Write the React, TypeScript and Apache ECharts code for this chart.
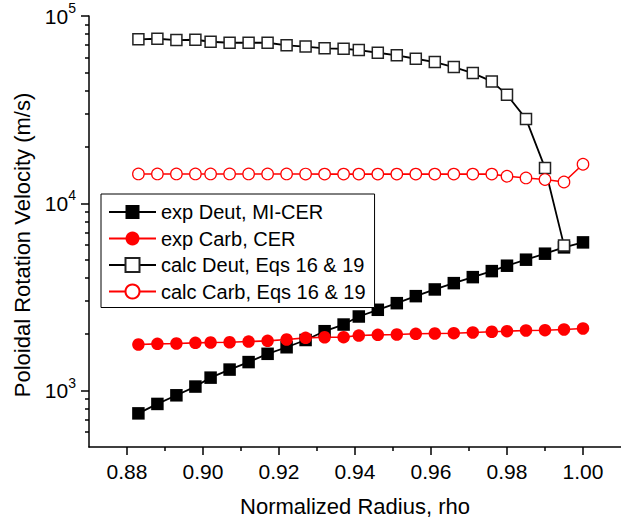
import React, { useEffect, useRef } from "react";
import * as echarts from "echarts";

const FONT = "'Liberation Sans', Arial, Helvetica, sans-serif";

const rho = [0.883, 0.888, 0.893, 0.898, 0.902, 0.907, 0.912, 0.917, 0.922, 0.927, 0.932, 0.937, 0.941, 0.946, 0.951, 0.956, 0.961, 0.966, 0.971, 0.976, 0.98, 0.985, 0.99, 0.995, 1.0];

const expDeut = [756, 849, 944, 1051, 1173, 1295, 1420, 1572, 1704, 1863, 2076, 2253, 2487, 2701, 2930, 3194, 3468, 3748, 4035, 4345, 4643, 5000, 5383, 5817, 6185];
const expCarb = [1762, 1777, 1784, 1799, 1806, 1812, 1828, 1844, 1874, 1913, 1927, 1930, 1968, 1985, 1993, 2010, 2018, 2026, 2043, 2061, 2076, 2094, 2102, 2120, 2146];
const calcDeut = [75060, 75610, 74420, 74690, 72870, 71970, 71970, 71970, 69710, 68690, 67190, 66850, 65800, 63640, 61640, 59120, 56760, 53390, 49590, 44750, 37950, 28230, 15450, 5960];
const calcCarb = [14350, 14350, 14350, 14350, 14350, 14350, 14350, 14350, 14350, 14330, 14320, 14320, 14320, 14320, 14320, 14320, 14320, 14320, 14320, 14320, 13950, 13660, 13390, 13000, 16170];

const xMajorTicks = [0.88, 0.9, 0.92, 0.94, 0.96, 0.98, 1.0];
const xMinorTicks = [0.89, 0.91, 0.93, 0.95, 0.97, 0.99];
const yMajorTicks = [1000, 10000, 100000];
const yMinorTicks = [600, 700, 800, 900, 2000, 3000, 4000, 5000, 6000, 7000, 8000, 9000, 20000, 30000, 40000, 50000, 60000, 70000, 80000, 90000];

const names = ["exp Deut, MI-CER", "exp Carb, CER", "calc Deut, Eqs 16 & 19", "calc Carb, Eqs 16 & 19"];

const pairs = (ys: number[]) => ys.map((y, i) => [rho[i], y]);

export default function App() {
  const ref = useRef<HTMLDivElement>(null);
  useEffect(() => {
    if (!ref.current) return;
    const chart = echarts.init(ref.current, null, { renderer: "svg" });
    const axisLineStyle = { color: "#000", width: 1.5 };
    chart.setOption({
      animation: false,
      backgroundColor: "#fff",
      textStyle: { fontFamily: FONT },
      grid: { left: 89, top: 16, width: 534, height: 431 },
      xAxis: [
        {
          type: "value",
          min: 0.87,
          max: 1.01,
          name: "Normalized Radius, rho",
          nameLocation: "middle",
          nameGap: 48,
          nameTextStyle: { fontSize: 22, color: "#000", fontFamily: FONT },
          splitLine: { show: false },
          axisLine: { show: true, onZero: false, lineStyle: axisLineStyle },
          axisTick: { show: true, inside: false, length: 8, lineStyle: { color: "#000", width: 1.5 }, customValues: xMajorTicks },
          axisLabel: {
            show: true,
            margin: 14,
            fontSize: 21,
            color: "#000",
            fontFamily: FONT,
            customValues: xMajorTicks,
            formatter: (v: number) => v.toFixed(2),
          },
        },
        {
          type: "value",
          min: 0.87,
          max: 1.01,
          position: "bottom",
          splitLine: { show: false },
          axisLine: { show: false, onZero: false },
          axisTick: { show: true, length: 4, lineStyle: { color: "#000", width: 1.5 }, customValues: xMinorTicks },
          axisLabel: { show: false },
        },
      ],
      yAxis: [
        {
          type: "log",
          logBase: 10,
          min: 500,
          max: 100000,
          splitLine: { show: false },
          axisLine: { show: true, onZero: false, lineStyle: axisLineStyle },
          axisTick: { show: true, length: 8, lineStyle: { color: "#000", width: 1.5 }, customValues: yMajorTicks },
          axisLabel: {
            show: true,
            margin: 13,
            customValues: yMajorTicks,
            formatter: (v: number) => {
              const e = Math.log10(v);
              if (Math.abs(e - Math.round(e)) > 1e-6) return "";
              return `{b|10}{s|${Math.round(e)}}`;
            },
            rich: {
              b: { fontSize: 21, lineHeight: 30, color: "#000", fontFamily: FONT },
              s: { fontSize: 14, lineHeight: 14, verticalAlign: "top", color: "#000", fontFamily: FONT },
            },
          },
        },
        {
          type: "log",
          logBase: 10,
          min: 500,
          max: 100000,
          position: "left",
          splitLine: { show: false },
          axisLine: { show: false, onZero: false },
          axisTick: { show: true, length: 4, lineStyle: { color: "#000", width: 1.5 }, customValues: yMinorTicks },
          axisLabel: { show: false },
        },
      ],
      legend: {
        orient: "vertical",
        left: 101,
        top: 194,
        padding: [8, 9, 6, 7],
        itemGap: 6.5,
        itemWidth: 47,
        itemHeight: 17.5,
        borderColor: "#000",
        borderWidth: 1,
        backgroundColor: "#fff",
        textStyle: { fontSize: 20, color: "#000", fontFamily: FONT },
        data: names,
      },
      graphic: [
        {
          type: "text",
          x: 22,
          y: 245,
          rotation: Math.PI / 2,
          style: {
            text: "Poloidal Rotation Velocity (m/s)",
            fontSize: 22,
            fontFamily: FONT,
            fill: "#000",
            textAlign: "center",
            textVerticalAlign: "middle",
          },
        },
      ],
      series: [
        {
          name: names[0],
          type: "line",
          data: pairs(expDeut),
          symbol: "rect",
          symbolSize: 12.5,
          lineStyle: { color: "#000", width: 1.8 },
          itemStyle: { color: "#000", borderColor: "#000", borderWidth: 0 },
        },
        {
          name: names[1],
          type: "line",
          data: pairs(expCarb),
          symbol: "circle",
          symbolSize: 12.5,
          lineStyle: { color: "#ff0000", width: 1.6 },
          itemStyle: { color: "#ff0000", borderColor: "#ff0000", borderWidth: 0 },
        },
        {
          name: names[2],
          type: "line",
          data: pairs(calcDeut),
          symbol: "rect",
          symbolSize: 11,
          lineStyle: { color: "#000", width: 1.8 },
          itemStyle: { color: "#fff", borderColor: "#222", borderWidth: 1.5 },
        },
        {
          name: names[3],
          type: "line",
          data: pairs(calcCarb),
          symbol: "circle",
          symbolSize: 11.5,
          lineStyle: { color: "#ff0000", width: 1.6 },
          itemStyle: { color: "#fff", borderColor: "#ff0000", borderWidth: 1.2 },
        },
      ],
    });
    return () => chart.dispose();
  }, []);
  return <div ref={ref} style={{ position: "absolute", left: 0, top: 0, width: 621, height: 524 }} />;
}
